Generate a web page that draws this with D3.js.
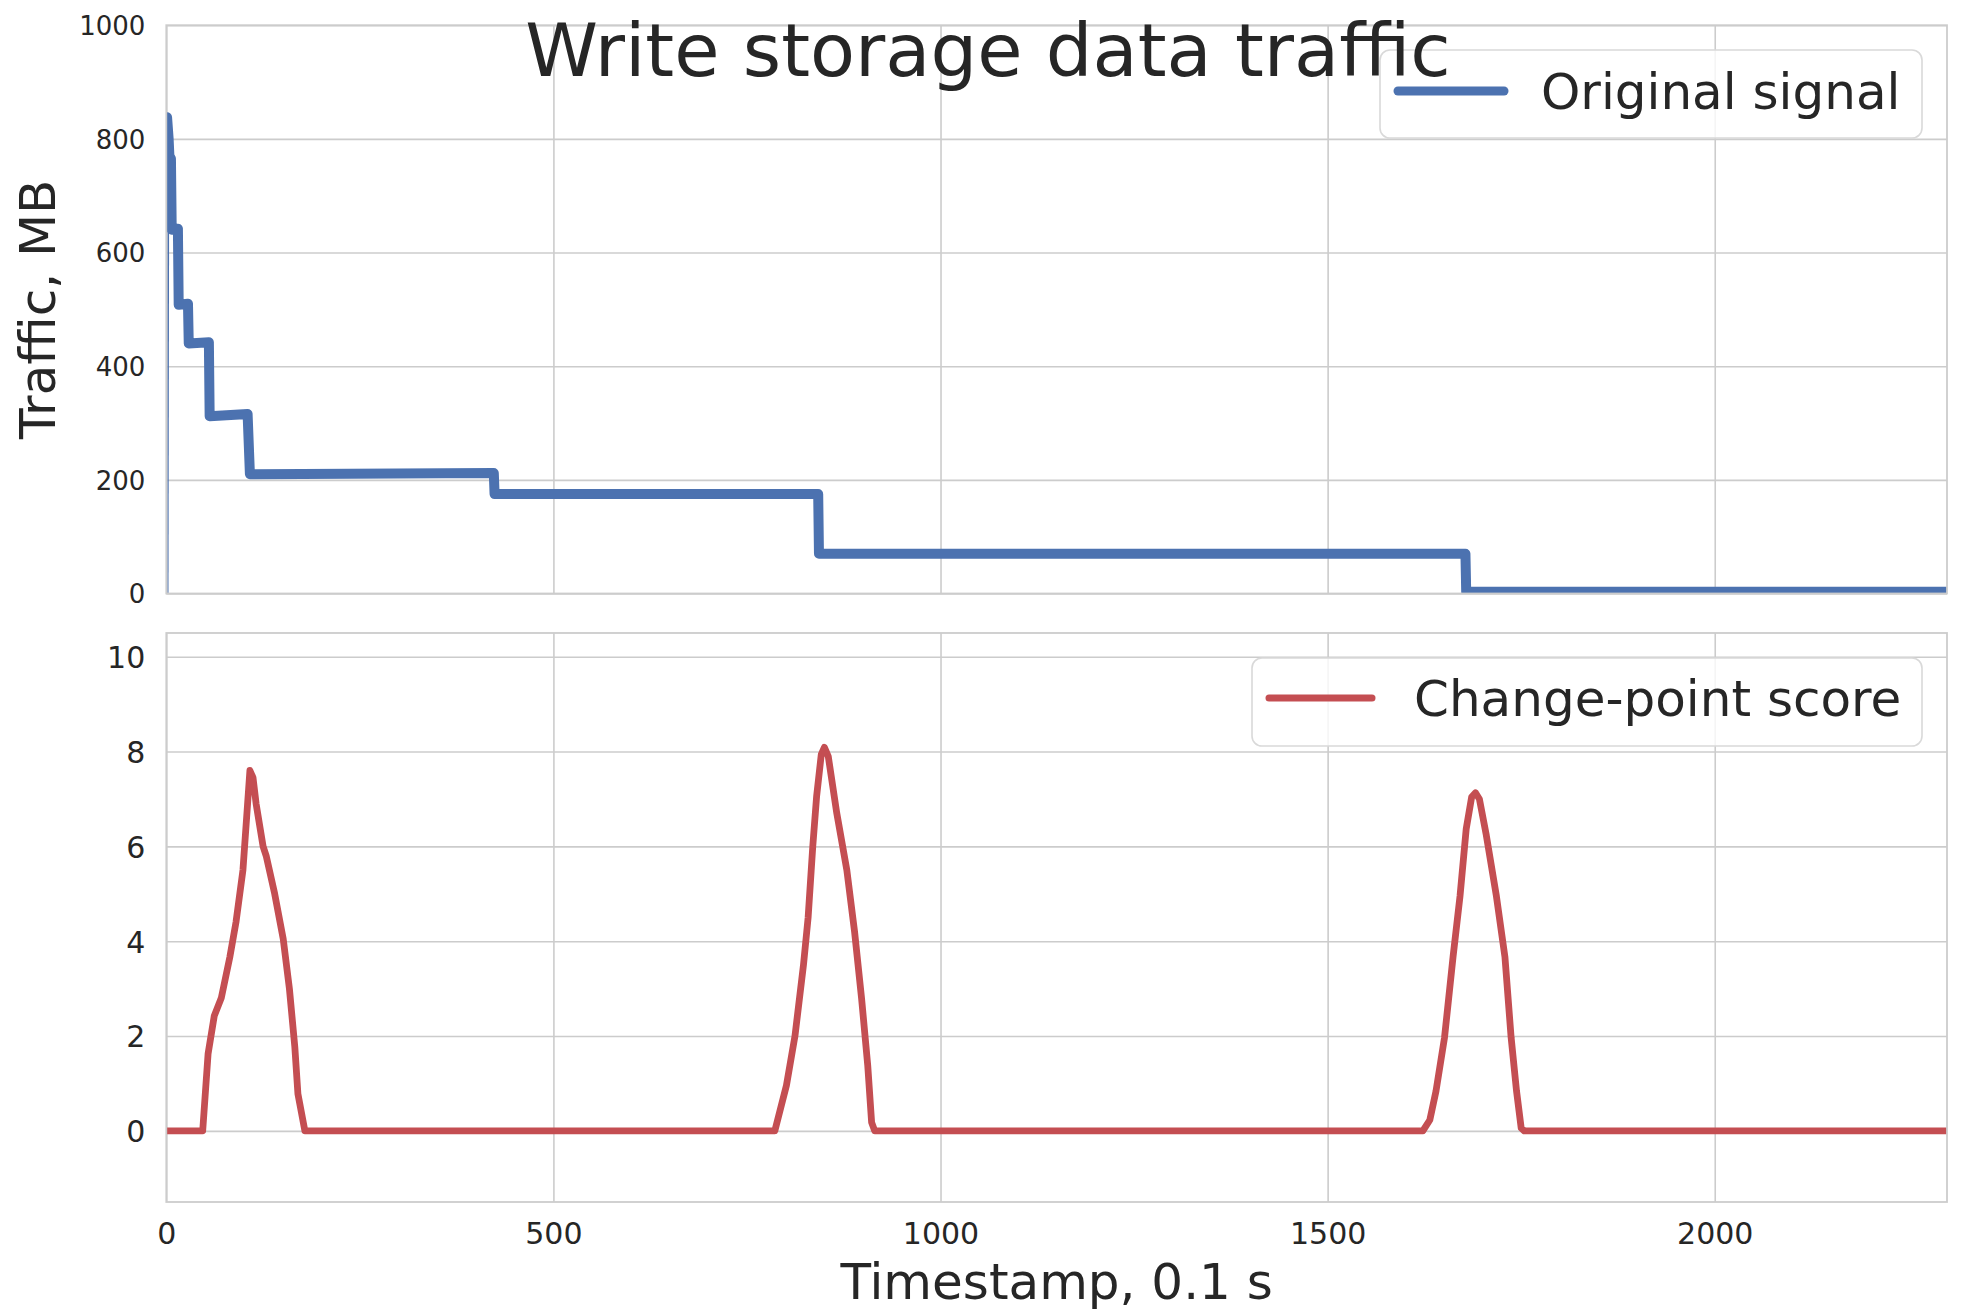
<!DOCTYPE html>
<html>
<head>
<meta charset="utf-8">
<script src="https://cdn.jsdelivr.net/npm/d3@7"></script>
<style>
  html, body { margin: 0; padding: 0; background: #ffffff; }
  svg { display: block; font-family: "DejaVu Sans", sans-serif; }
</style>
</head>
<body>
<svg id="chart" width="1976" height="1316"></svg>
<script>
// ---------------- data ----------------
const titleText = "Write storage data traffic";
const xLabelText = "Timestamp, 0.1 s";
const yLabelText = "Traffic, MB";
const signalName = "Original signal";
const scoreName = "Change-point score";

const xTicks = [0, 500, 1000, 1500, 2000];
const topYTicks = [0, 200, 400, 600, 800, 1000];
const bottomYTicks = [0, 2, 4, 6, 8, 10];

// initial ramp of the original signal (thin segment)
const rampT = [0, 1];
const rampV = [0, 838];

// original signal (step levels)
const signalT = [1, 3, 4, 6, 7, 15, 16, 28, 29, 55, 56, 105, 108, 423, 424, 842, 843, 1678, 1679, 2300];
const signalV = [838, 800, 770, 765, 640, 642, 508, 510, 440, 442, 312, 316, 210, 212, 175, 175, 70, 70, 3, 3];

// change-point score
const scoreT = [0, 47, 54, 62, 71, 82, 90, 99, 105, 108, 112, 116, 125, 129, 140, 151, 159, 166, 170, 179,
  786, 801, 812, 823, 829, 835, 840, 846, 850, 855, 866, 879, 889, 898, 906, 911, 915,
  1623, 1632, 1640, 1651, 1662, 1671, 1679, 1686, 1691, 1696, 1705, 1718, 1729, 1737, 1744, 1750, 1754, 2300];
const scoreV = [0, 0, 1.63, 2.43, 2.8, 3.66, 4.4, 5.5, 6.9, 7.6, 7.45, 6.9, 6.0, 5.8, 5.0, 4.05, 3.0, 1.77, 0.78, 0,
  0, 0.96, 2.0, 3.5, 4.5, 6.0, 7.06, 7.94, 8.09, 7.9, 6.7, 5.5, 4.2, 2.8, 1.38, 0.18, 0,
  0, 0.23, 0.84, 1.97, 3.67, 4.95, 6.37, 7.04, 7.13, 7.0, 6.23, 4.95, 3.67, 1.97, 0.84, 0.06, 0, 0];

// ---------------- style ----------------
const BLUE = "#4C72B0";
const RED = "#C44E52";
const GRID = "#cccccc";
const TEXT = "#262626";

const svg = d3.select("#chart");

const left = 166.3, right = 1947;
const topPanel = { y0: 25.2, y1: 593.5 };
const botPanel = { y0: 633, y1: 1202 };

const x = d3.scaleLinear().domain([0, 2300]).range([left, right]);
const yTop = d3.scaleLinear().domain([0, 1000]).range([topPanel.y1, topPanel.y0]);
const yBot = d3.scaleLinear().domain([-1.5, 10.5]).range([botPanel.y1, botPanel.y0]);

function drawPanel(id, y, panel, yTicks, tickSize, showX) {
  const g = svg.append("g");
  g.append("rect").attr("x", left).attr("y", panel.y0)
    .attr("width", right - left).attr("height", panel.y1 - panel.y0)
    .attr("fill", "#ffffff");
  const gx = g.append("g").attr("transform", `translate(0,${panel.y1})`)
    .call(d3.axisBottom(x).tickValues(xTicks).tickSize(-(panel.y1 - panel.y0)).tickFormat(showX ? d3.format("d") : ""));
  gx.select(".domain").remove();
  gx.selectAll(".tick line").attr("stroke", GRID).attr("stroke-width", 1.6);
  gx.selectAll(".tick text").attr("fill", TEXT).attr("font-size", 30)
    .attr("font-family", "DejaVu Sans").attr("y", 0).attr("dy", 0)
    .attr("transform", "translate(0,42)");

  const gy = g.append("g").attr("transform", `translate(${left},0)`)
    .call(d3.axisLeft(y).tickValues(yTicks).tickSize(-(right - left)).tickFormat(d3.format("d")));
  gy.select(".domain").remove();
  gy.selectAll(".tick line").attr("stroke", GRID).attr("stroke-width", 1.6);
  gy.selectAll(".tick text").attr("fill", TEXT).attr("font-size", tickSize)
    .attr("font-family", "DejaVu Sans").attr("x", -21).attr("dy", "0.36em");

  svg.append("clipPath").attr("id", id).append("rect")
    .attr("x", left).attr("y", panel.y0).attr("width", right - left).attr("height", panel.y1 - panel.y0);
  return g;
}

const gTop = drawPanel("clipTop", yTop, topPanel, topYTicks, 26, false);
const gBot = drawPanel("clipBot", yBot, botPanel, bottomYTicks, 30, true);

const ramp = rampT.map((t, i) => [t, rampV[i]]);
const signal = signalT.map((t, i) => [t, signalV[i]]);
const score = scoreT.map((t, i) => [t, scoreV[i]]);

const lineTop = d3.line().x(d => x(d[0])).y(d => yTop(d[1]));
const lineBot = d3.line().x(d => x(d[0])).y(d => yBot(d[1]));

gTop.append("path").datum(ramp).attr("d", lineTop)
  .attr("fill", "none").attr("stroke", BLUE).attr("stroke-width", 2)
  .attr("transform", "translate(1.2,0)")
  .attr("clip-path", "url(#clipTop)");
gTop.append("path").datum(signal).attr("d", lineTop)
  .attr("fill", "none").attr("stroke", BLUE).attr("stroke-width", 10)
  .attr("stroke-linejoin", "round").attr("stroke-linecap", "round")
  .attr("clip-path", "url(#clipTop)");

gBot.append("path").datum(score).attr("d", lineBot)
  .attr("fill", "none").attr("stroke", RED).attr("stroke-width", 6.8)
  .attr("stroke-linejoin", "round").attr("stroke-linecap", "round")
  .attr("clip-path", "url(#clipBot)");

[topPanel, botPanel].forEach(p => {
  svg.append("rect").attr("x", left).attr("y", p.y0)
    .attr("width", right - left).attr("height", p.y1 - p.y0)
    .attr("fill", "none").attr("stroke", GRID).attr("stroke-width", 1.8);
});

function legend(bx, by, bw, bh, lx0, lx1, ly, tx, color, lw, label) {
  const g = svg.append("g");
  g.append("rect").attr("x", bx).attr("y", by).attr("width", bw).attr("height", bh)
    .attr("rx", 10).attr("ry", 10)
    .attr("fill", "#ffffff").attr("fill-opacity", 0.8)
    .attr("stroke", "#d9d9d9").attr("stroke-width", 1.6);
  g.append("line").attr("x1", lx0).attr("x2", lx1).attr("y1", ly).attr("y2", ly)
    .attr("stroke", color).attr("stroke-width", lw).attr("stroke-linecap", "round");
  g.append("text").attr("x", tx).attr("y", ly).attr("dy", "0.35em")
    .attr("font-size", 50).attr("fill", TEXT).text(label);
}
legend(1380, 50, 542, 88, 1398, 1504, 91, 1541, BLUE, 9, signalName);
legend(1252, 658, 670, 88, 1269, 1372, 698, 1414, RED, 7, scoreName);

svg.append("text").attr("x", 988).attr("y", 76).attr("text-anchor", "middle")
  .attr("font-size", 73.6).attr("fill", TEXT).text(titleText);

svg.append("text").attr("x", (left + right) / 2).attr("y", 1299).attr("text-anchor", "middle")
  .attr("font-size", 50).attr("fill", TEXT).text(xLabelText);
svg.append("text").attr("transform", `translate(55,${(topPanel.y0 + topPanel.y1) / 2}) rotate(-90)`)
  .attr("text-anchor", "middle").attr("font-size", 50).attr("fill", TEXT).text(yLabelText);
</script>
</body>
</html>
